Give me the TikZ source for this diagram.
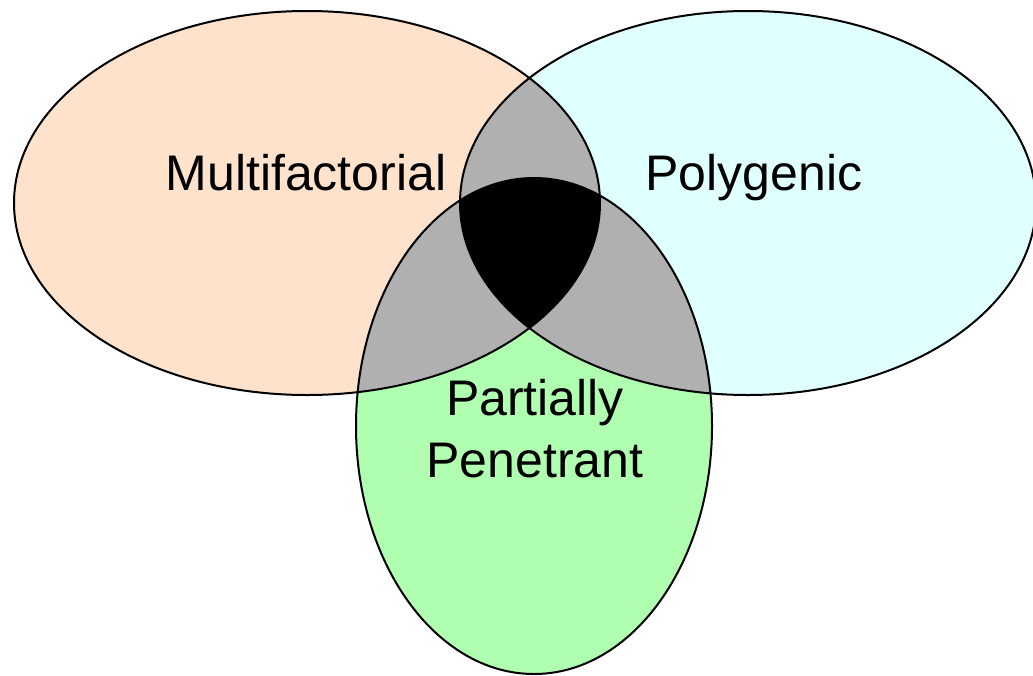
\documentclass[tikz,border=0pt]{standalone}
\usepackage{fontspec}
\setsansfont{Liberation Sans}
\usepackage{tikz}
\usetikzlibrary{positioning}

\definecolor{peach}{RGB}{255,226,204}
\definecolor{icecyan}{RGB}{224,255,255}
\definecolor{palegreen}{RGB}{176,255,176}
\definecolor{overlapgray}{RGB}{176,176,176}

% the three sets
\newcommand{\venmulti}{(307,203) ellipse [x radius=293, y radius=192]}
\newcommand{\venpoly}{(748,203) ellipse [x radius=288, y radius=192]}
\newcommand{\venpart}{(534,426) ellipse [x radius=178, y radius=248]}

\begin{document}
\begin{tikzpicture}[x=1pt, y=-1pt,
  setname/.style={font=\sffamily\fontsize{50}{62}\selectfont, align=center, inner sep=0pt, anchor=base},
  rim/.style={draw=black, line width=2pt}]
  \useasboundingbox (0,0) rectangle (1033,675);

  \fill[peach] \venmulti;
  \fill[icecyan] \venpoly;
  \fill[palegreen] \venpart;

  % pairwise overlaps
  \begin{scope}
    \clip \venmulti;
    \fill[overlapgray] \venpoly;
    \fill[overlapgray] \venpart;
  \end{scope}
  \begin{scope}
    \clip \venpoly;
    \fill[overlapgray] \venpart;
  \end{scope}
  % all three
  \begin{scope}
    \clip \venmulti;
    \clip \venpoly;
    \fill[black] \venpart;
  \end{scope}

  \draw[rim] \venmulti;
  \draw[rim] \venpoly;
  \draw[rim] \venpart;

  \node[setname] (multi) at (306,190) {Multifactorial};
  \node[setname] (poly) at (754,190) {Polygenic};
  \node[setname] (part) at (535,477) {Partially\\Penetrant};
\end{tikzpicture}
\end{document}
